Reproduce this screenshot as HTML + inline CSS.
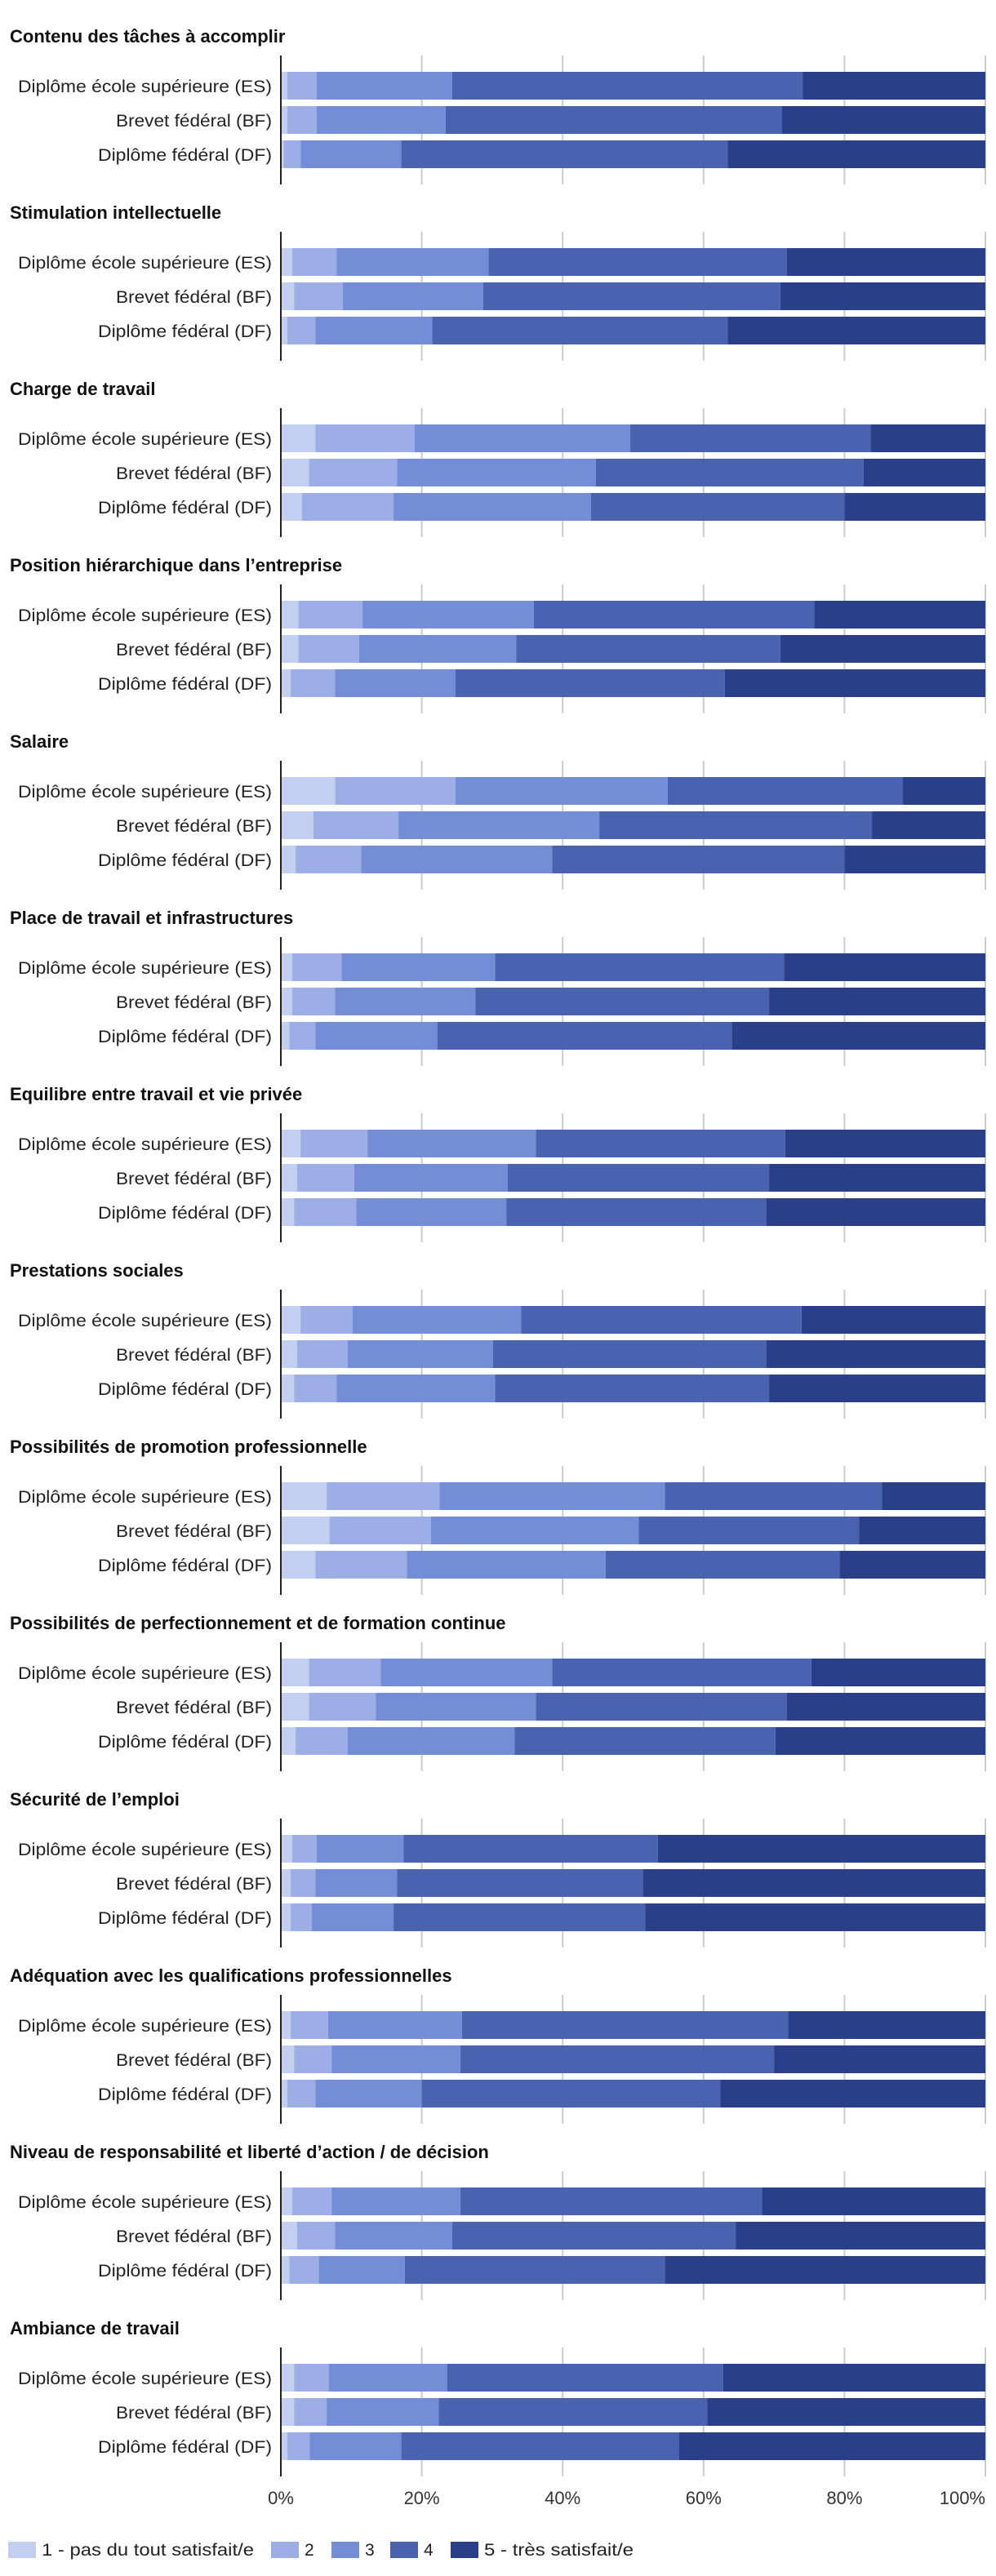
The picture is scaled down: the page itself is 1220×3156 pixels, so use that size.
<!DOCTYPE html>
<html lang="fr"><head><meta charset="utf-8">
<style>
html,body{margin:0;padding:0;background:#fff;}
svg{display:block;font-family:"Liberation Sans",Arial,sans-serif;}
</style></head>
<body>
<svg id="chart" width="1220" height="3156" viewBox="0 0 1220 3156" xmlns="http://www.w3.org/2000/svg"></svg>
<script>
const topics = ["Contenu des tâches à accomplir","Stimulation intellectuelle","Charge de travail","Position hiérarchique dans l’entreprise","Salaire","Place de travail et infrastructures","Equilibre entre travail et vie privée","Prestations sociales","Possibilités de promotion professionnelle","Possibilités de perfectionnement et de formation continue","Sécurité de l’emploi","Adéquation avec les qualifications professionnelles","Niveau de responsabilité et liberté d’action / de décision","Ambiance de travail"];
const groups = ["Diplôme école supérieure (ES)","Brevet fédéral (BF)","Diplôme fédéral (DF)"];
const seriesNames = ["1 - pas du tout satisfait/e","2","3","4","5 - très satisfait/e"];
// cumulative percentages (end of levels 1..4) per topic, per group
const cumES = [[0.9,5.1,24.3,74.1],[1.6,7.9,29.5,71.8],[4.9,19.0,49.6,83.7],[2.5,11.6,35.9,75.7],[7.7,24.8,54.9,88.3],[1.6,8.6,30.4,71.4],[2.8,12.3,36.2,71.6],[2.8,10.2,34.1,73.9],[6.5,22.5,54.5,85.3],[4.0,14.2,38.5,75.3],[1.6,5.1,17.4,53.5],[1.4,6.7,25.7,72.0],[1.6,7.2,25.5,68.3],[1.9,6.8,23.6,62.8]];
const cumBF = [[0.9,5.1,23.4,71.1],[1.9,8.8,28.7,70.9],[4.0,16.5,44.7,82.7],[2.5,11.1,33.4,70.9],[4.6,16.7,45.2,83.9],[1.6,7.7,27.6,69.3],[2.3,10.4,32.2,69.3],[2.3,9.5,30.1,68.9],[6.9,21.3,50.8,82.1],[4.0,13.5,36.2,71.8],[1.4,4.9,16.5,51.4],[1.9,7.2,25.5,70.0],[2.3,7.7,24.3,64.6],[1.9,6.5,22.4,60.5]];
const cumDF = [[0.4,2.8,17.1,63.4],[0.9,4.9,21.5,63.4],[3.0,16.0,44.0,80.0],[1.4,7.7,24.8,63.0],[2.1,11.4,38.5,80.0],[1.2,4.9,22.2,64.0],[1.9,10.7,32.0,68.9],[1.9,7.9,30.4,69.3],[4.9,17.9,46.1,79.3],[2.1,9.5,33.2,70.2],[1.4,4.4,16.0,51.7],[0.9,4.9,20.0,62.4],[1.2,5.4,17.6,54.5],[0.9,4.1,17.1,56.5]];
const ticks = [0,20,40,60,80,100];
const tickLabels = ["0%","20%","40%","60%","80%","100%"];

const colors = ["#c3cff1","#9caee5","#738dd6","#4a63b1","#2a3f8a"];
const X0 = 344, X1 = 1207;
const xs = v => X0 + (X1 - X0) * v / 100;
const NS = "http://www.w3.org/2000/svg";
const svg = document.getElementById("chart");
function mk(tag, attrs, parent){const e=document.createElementNS(NS,tag);for(const k in attrs)e.setAttribute(k,attrs[k]);(parent||svg).appendChild(e);return e;}
const labelW = [311,191,213];
const cums = [cumES, cumBF, cumDF];

topics.forEach((t, k) => {
  const top = 68 + 216 * k;
  const g = mk("g", {});
  
  
  const title = mk("text", {x:12, y:top-16, "font-size":"22", "font-weight":"bold", fill:"#111"}, g);
  title.textContent = t;
  
  
  ticks.forEach((tv, i) => {
    if (i === 0) return;
    const gl = mk("line", {x1:xs(tv), x2:xs(tv), y1:top, y2:top+158, stroke:"#cccccc", "stroke-width":"2"}, g);
    
    
  });
  groups.forEach((gr, i) => {
    const y = top + 20 + i * 42;
    const lab = mk("text", {x:333, y:y+25, "font-size":"21", fill:"#222", "text-anchor":"end", textLength:labelW[i], lengthAdjust:"spacingAndGlyphs"}, g);
    lab.textContent = gr;
    
    
    const c = [0].concat(cums[i][k]).concat([100]);
    for (let s = 0; s < 5; s++) {
      const r = mk("rect", {x:xs(c[s]), y:y, width:Math.max(0, xs(c[s+1]) - xs(c[s])), height:34, fill:colors[s]}, g);
      
      
    }
  });
  const ax = mk("line", {x1:X0, x2:X0, y1:top, y2:top+158, stroke:"#222", "stroke-width":"2"}, g);
  
  
});

ticks.forEach((tv, i) => {
  const last = i === ticks.length - 1;
  const tx = mk("text", {x: last ? X1 : xs(tv), y:3068, "font-size":"22", fill:"#333", "text-anchor": last ? "end" : "middle"});
  tx.textContent = tickLabels[i];
  
  
});

const legX = [10, 332, 406, 478, 552];
const legTW = [260, 0, 0, 0, 183];
seriesNames.forEach((n, i) => {
  const lg = mk("g", {});
  
  
  mk("rect", {x:legX[i], y:3114, width:34, height:20, fill:colors[i]}, lg);
  const attrs = {x:legX[i]+41, y:3131, "font-size":"21", fill:"#222"};
  if (legTW[i]) { attrs.textLength = legTW[i]; attrs.lengthAdjust = "spacingAndGlyphs"; }
  const lt = mk("text", attrs, lg);
  lt.textContent = n;
});
</script>
</body></html>
